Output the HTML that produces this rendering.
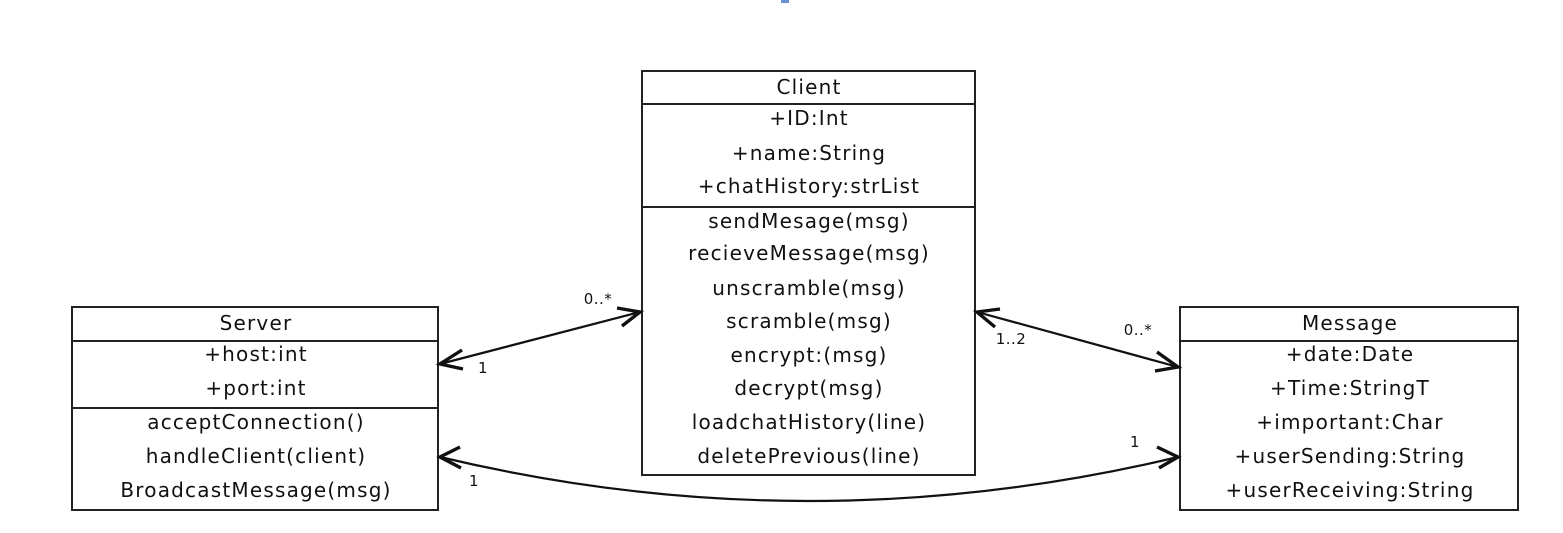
<!DOCTYPE html>
<html><head><style>
body{margin:0;background:#fff;}
svg text{font-family:"DejaVu Sans","Liberation Sans",sans-serif;font-size:20px;letter-spacing:1.2px;fill:#111;text-anchor:middle;}
svg text.s{font-size:15px;letter-spacing:0.5px;}
</style></head><body>
<svg width="1563" height="528" viewBox="0 0 1563 528">
<rect x="781" y="0" width="8" height="3" fill="#6f8fcf"/>
<g fill="#fff" stroke="#222" stroke-width="2">
<rect x="642" y="71" width="333" height="404"/>
<line x1="642" y1="104" x2="975" y2="104"/>
<line x1="642" y1="207" x2="975" y2="207"/>
<rect x="72" y="307" width="366" height="203"/>
<line x1="72" y1="341" x2="438" y2="341"/>
<line x1="72" y1="408" x2="438" y2="408"/>
<rect x="1180" y="307" width="338" height="203"/>
<line x1="1180" y1="341" x2="1518" y2="341"/>
</g>
<g>
<text x="809" y="94">Client</text>
<text x="809" y="125">+ID:Int</text>
<text x="809" y="160">+name:String</text>
<text x="809" y="193">+chatHistory:strList</text>
<text x="809" y="228">sendMesage(msg)</text>
<text x="809" y="260">recieveMessage(msg)</text>
<text x="809" y="295">unscramble(msg)</text>
<text x="809" y="328">scramble(msg)</text>
<text x="809" y="362">encrypt:(msg)</text>
<text x="809" y="395">decrypt(msg)</text>
<text x="809" y="429">loadchatHistory(line)</text>
<text x="809" y="463">deletePrevious(line)</text>
<text x="256" y="330">Server</text>
<text x="256" y="361">+host:int</text>
<text x="256" y="395">+port:int</text>
<text x="256" y="429">acceptConnection()</text>
<text x="256" y="463">handleClient(client)</text>
<text x="256" y="497">BroadcastMessage(msg)</text>
<text x="1350" y="330">Message</text>
<text x="1350" y="361">+date:Date</text>
<text x="1350" y="395">+Time:StringT</text>
<text x="1350" y="429">+important:Char</text>
<text x="1350" y="463">+userSending:String</text>
<text x="1350" y="497">+userReceiving:String</text>
</g>
<g stroke="#111" stroke-width="2.2" fill="none">
<line x1="440" y1="364" x2="640" y2="312"/>
<line x1="977" y1="312" x2="1178" y2="367"/>
<path d="M440,457 Q809,545 1178,457"/>
</g>
<g stroke="#111" stroke-width="3.4" fill="none" stroke-linejoin="miter">
<polyline points="462,350 440,364 463,369"/>
<polyline points="617,308 640,312 622,326"/>
<polyline points="995,327 977,312 1000,309"/>
<polyline points="1157,352 1178,367 1155,371"/>
<polyline points="460,447 440,457 461,468"/>
<polyline points="1157,447 1178,457 1159,468"/>
</g>
<text class="s" x="598" y="304">0..*</text>
<text class="s" x="483" y="373">1</text>
<text class="s" x="474" y="486">1</text>
<text class="s" x="1011" y="344">1..2</text>
<text class="s" x="1138" y="335">0..*</text>
<text class="s" x="1135" y="447">1</text>
</svg>
</body></html>
